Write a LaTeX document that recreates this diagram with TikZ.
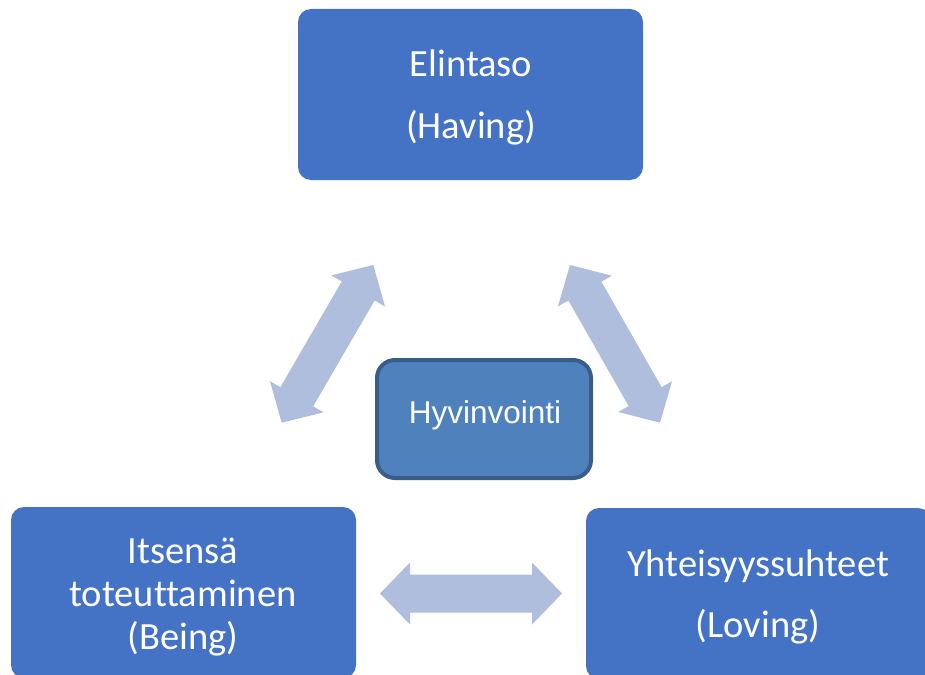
\documentclass[tikz,border=0pt]{standalone}
\usepackage{fontspec}
\setmainfont{Carlito}[Ligatures=NoCommon]
\newfontfamily\arialf{Liberation Sans}
\usetikzlibrary{calc}
\definecolor{boxblue}{HTML}{4472C4}
\definecolor{midfill}{HTML}{4F81BD}
\definecolor{midline}{HTML}{385D8A}
\definecolor{arrowblue}{RGB}{176,190,222}
\newcommand{\dblarr}[2]{%
  \fill[arrowblue] let \p1=(#1), \p2=(#2),
    \n1={atan2(\y2-\y1,\x2-\x1)}, \n2={veclen(\x2-\x1,\y2-\y1)} in
    [shift={(\p1)}, rotate=\n1]
    (0pt,0pt) -- (30pt,31pt) -- (30pt,19pt) -- ({\n2*1pt-30pt},19pt)
    -- ({\n2*1pt-30pt},31pt) -- ({\n2*1pt},0pt) -- ({\n2*1pt-30pt},-31pt)
    -- ({\n2*1pt-30pt},-19pt) -- (30pt,-19pt) -- (30pt,-31pt) -- cycle;}
\begin{document}
\begin{tikzpicture}[x=1pt,y=-1pt,
  bigbox/.style={fill=boxblue, draw=none, rounded corners=13pt,
    minimum width=345pt, minimum height=171pt, inner sep=0pt},
  midbox/.style={fill=midfill, draw=midline, line width=4pt, rounded corners=18pt,
    minimum width=214pt, minimum height=118pt, inner sep=0pt},
  txt/.style={text=white, anchor=base, inner sep=0pt, font=\fontsize{38.5}{46}\selectfont},
  midtxt/.style={text=white, anchor=base, inner sep=0pt, font=\arialf\fontsize{31.5}{36}\selectfont}]
\useasboundingbox[fill=white] (0,0) rectangle (925,674);
\node[bigbox] (having) at (470.5,94.5) {};
\node[bigbox] (being) at (183.5,592.5) {};
\node[bigbox] (loving) at (758.5,593.5) {};
\node[midbox] (hyv) at (484,419) {};
\node[txt] (having1) at (471,77) {Elintaso};
\node[txt] (having2) at (471,139) {(Having)};
\node[txt] (being1) at (183,563) {Itsensä};
\node[txt] (being2) at (183,606) {toteuttaminen};
\node[txt] (being3) at (183,649) {(Being)};
\node[txt] (loving1) at (758,576) {Yhteisyyssuhteet};
\node[txt] (loving2) at (758,637) {(Loving)};
\node[midtxt] (hyvt) at (485,423) {Hyvinvointi};
\coordinate (aL1) at (281.7,422.7);
\coordinate (aL2) at (373.3,265);
\coordinate (aR1) at (570,265);
\coordinate (aR2) at (660,422.7);
\coordinate (aB1) at (380,593.5);
\coordinate (aB2) at (562,593.5);
\dblarr{aL1}{aL2}
\dblarr{aR1}{aR2}
\dblarr{aB1}{aB2}
\end{tikzpicture}
\end{document}
